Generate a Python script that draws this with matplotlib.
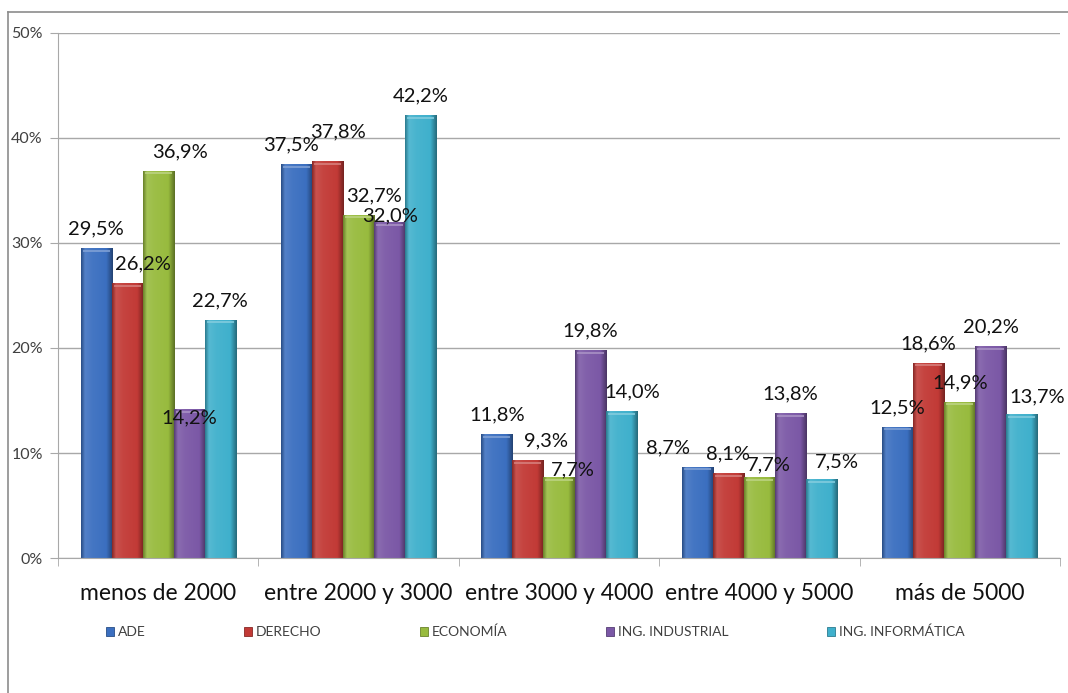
import matplotlib.pyplot as plt
import numpy as np
from matplotlib.colors import LinearSegmentedColormap, to_rgb
from matplotlib.lines import Line2D

categories = ['menos de 2000', 'entre 2000 y 3000', 'entre 3000 y 4000',
              'entre 4000 y 5000', 'más de 5000']
series = ['ADE', 'DERECHO', 'ECONOMÍA', 'ING. INDUSTRIAL', 'ING. INFORMÁTICA']
ade = [29.5, 37.5, 11.8, 8.7, 12.5]
derecho = [26.2, 37.8, 9.3, 8.1, 18.6]
economia = [36.9, 32.7, 7.7, 7.7, 14.9]
ing_industrial = [14.2, 32.0, 19.8, 13.8, 20.2]
ing_informatica = [22.7, 42.2, 14.0, 7.5, 13.7]
values = [ade, derecho, economia, ing_industrial, ing_informatica]

colors = ['#3b6fc0', '#c23a36', '#98bb3e', '#7b58a6', '#3fb0cc']

# label nudges (pixels) where Excel moved the labels around
label_shift = {(1, 0): (16, 0), (2, 0): (22, 0), (3, 0): (0, -28),
               (0, 1): (-5, 0), (1, 1): (10, 10), (2, 1): (15, 0), (3, 1): (0, -13),
               (1, 2): (18, 0), (2, 2): (14, -12), (4, 2): (11, 0),
               (0, 3): (-29, 0), (2, 3): (9, -7), (4, 3): (15, -2),
               (4, 4): (15, -2)}


def shade(c, f):
    r = np.array(to_rgb(c))
    if f >= 0:
        return tuple(r + (1 - r) * f)
    return tuple(r * (1 + f))


plt.rcParams['font.family'] = ['Lato', 'DejaVu Sans']
fig = plt.figure(figsize=(10.68, 6.93), dpi=100)
ax = fig.add_axes([0.0543, 0.1948, 0.9382, 0.7576])

x = np.arange(len(categories))
w = 0.155
grad = np.linspace(0, 1, 64).reshape(1, -1)
for i, name in enumerate(series):
    c = colors[i]
    cmap = LinearSegmentedColormap.from_list(
        name, [(0, shade(c, -0.3)), (0.12, shade(c, 0.12)), (0.35, shade(c, 0.05)),
               (0.8, c), (1, shade(c, -0.4))])
    bars = ax.bar(x + (i - 2) * w, values[i], w, color=c, label=name, zorder=2,
                  edgecolor=shade(c, -0.3), linewidth=0.6)
    for j, b in enumerate(bars):
        x0, y0 = b.get_x(), b.get_y()
        im = ax.imshow(grad, extent=[x0, x0 + b.get_width(), y0, y0 + b.get_height()],
                       cmap=cmap, aspect='auto', zorder=2.5, interpolation='bilinear')
        im.set_clip_path(b)
        # top bevel
        ax.plot([x0 + 0.01, x0 + b.get_width() - 0.01], [y0 + b.get_height() - 0.25] * 2,
                color=shade(c, 0.35), lw=1.2, zorder=3, solid_capstyle='butt')
        dx, dy = label_shift.get((i, j), (0, 0))
        ax.annotate(f'{values[i][j]:.1f}%'.replace('.', ','),
                    (b.get_x() + b.get_width() / 2, b.get_height()),
                    xytext=(dx, 19 + dy), textcoords='offset pixels',
                    ha='center', va='center', fontsize=14.5, color='#111111', zorder=5)

ax.set_xlim(-0.5, 4.5)
ax.set_ylim(0, 50)
ax.set_yticks(range(0, 51, 10))
ax.set_yticklabels([f'{v}%' for v in range(0, 51, 10)])
ax.yaxis.grid(True, color='#a8a8a8', lw=1.0, zorder=0)
ax.set_axisbelow(True)
ax.tick_params(axis='y', length=6, color='#a8a8a8', labelsize=11.5, labelcolor='#404040', pad=5)

ax.set_xticks(x)
ax.set_xticklabels(categories, fontsize=16.5, color='#111111')
ax.set_xticks(np.arange(-0.5, 5, 1), minor=True)
ax.tick_params(axis='x', which='major', length=0, pad=18)
ax.tick_params(axis='x', which='minor', length=6, color='#a8a8a8')

for s in ['top', 'right']:
    ax.spines[s].set_visible(False)
for s in ['left', 'bottom']:
    ax.spines[s].set_color('#a8a8a8')

handles, labs = ax.get_legend_handles_labels()
leg = fig.legend(handles, labs, loc='center', bbox_to_anchor=(535 / 1068, 1 - 632 / 693),
                 ncol=5, frameon=False, fontsize=10, handlelength=0.6, handleheight=0.6,
                 handletextpad=0.25, columnspacing=7.1, labelcolor='#404040')

# chart frame (cropped on the right and bottom)
fig.add_artist(Line2D([8 / 1068, 8 / 1068], [0, 1 - 12 / 693], color='#8c8c8c', lw=1.2))
fig.add_artist(Line2D([8 / 1068, 1], [1 - 12 / 693, 1 - 12 / 693], color='#8c8c8c', lw=1.2))

fig.savefig('out.png', dpi=100)
